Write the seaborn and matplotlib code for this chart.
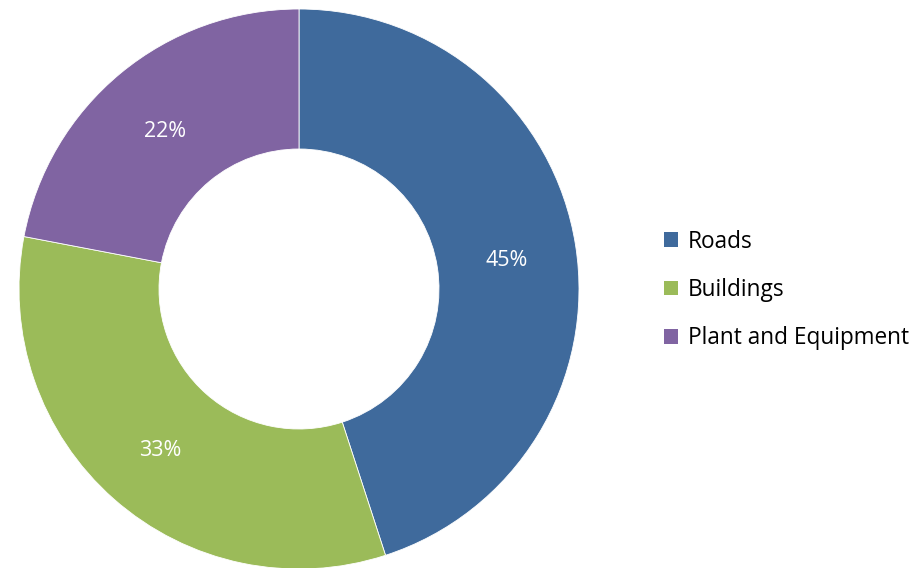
import matplotlib
matplotlib.use("Agg")
import matplotlib.pyplot as plt
import matplotlib.transforms as mtransforms
from matplotlib.patches import Patch
import seaborn as sns

categories = ["Roads", "Buildings", "Plant and Equipment"]
shares = [45, 33, 22]
colors = ["#3F6A9C", "#9BBB59", "#8064A2"]

sns.set_theme(style="white")
plt.rcParams["font.family"] = ["Open Sans", "DejaVu Sans"]

fig = plt.figure(figsize=(9.23, 5.68), dpi=100)
ax = fig.add_axes([19 / 923, -1 / 568, 560 / 923, 560 / 568])

wedges, texts, autotexts = ax.pie(
    shares,
    colors=colors,
    startangle=90,
    counterclock=False,
    autopct="%d%%",
    pctdistance=0.75,
    wedgeprops=dict(width=0.5, edgecolor="white", linewidth=0.6),
    textprops=dict(color="white", fontsize=15.5),
)
# nudge the percentage labels slightly downward
shift = mtransforms.ScaledTranslation(0, -4 / 100, fig.dpi_scale_trans)
for t in autotexts:
    t.set_transform(t.get_transform() + shift)

ax.set_xlim(-1, 1)
ax.set_ylim(-1, 1)
ax.set_aspect("auto")
ax.axis("off")

handles = [Patch(facecolor=c, edgecolor="none") for c in colors]
leg = fig.legend(
    handles, categories,
    loc="center left",
    bbox_to_anchor=(664 / 923, 1 - 290 / 568),
    frameon=False,
    fontsize=16.3,
    handlelength=0.6,
    handleheight=0.6,
    handletextpad=0.45,
    labelspacing=1.08,
    borderaxespad=0,
    borderpad=0,
)
for t in leg.get_texts():
    t.set_color("black")

fig.savefig("out.png", dpi=100)
